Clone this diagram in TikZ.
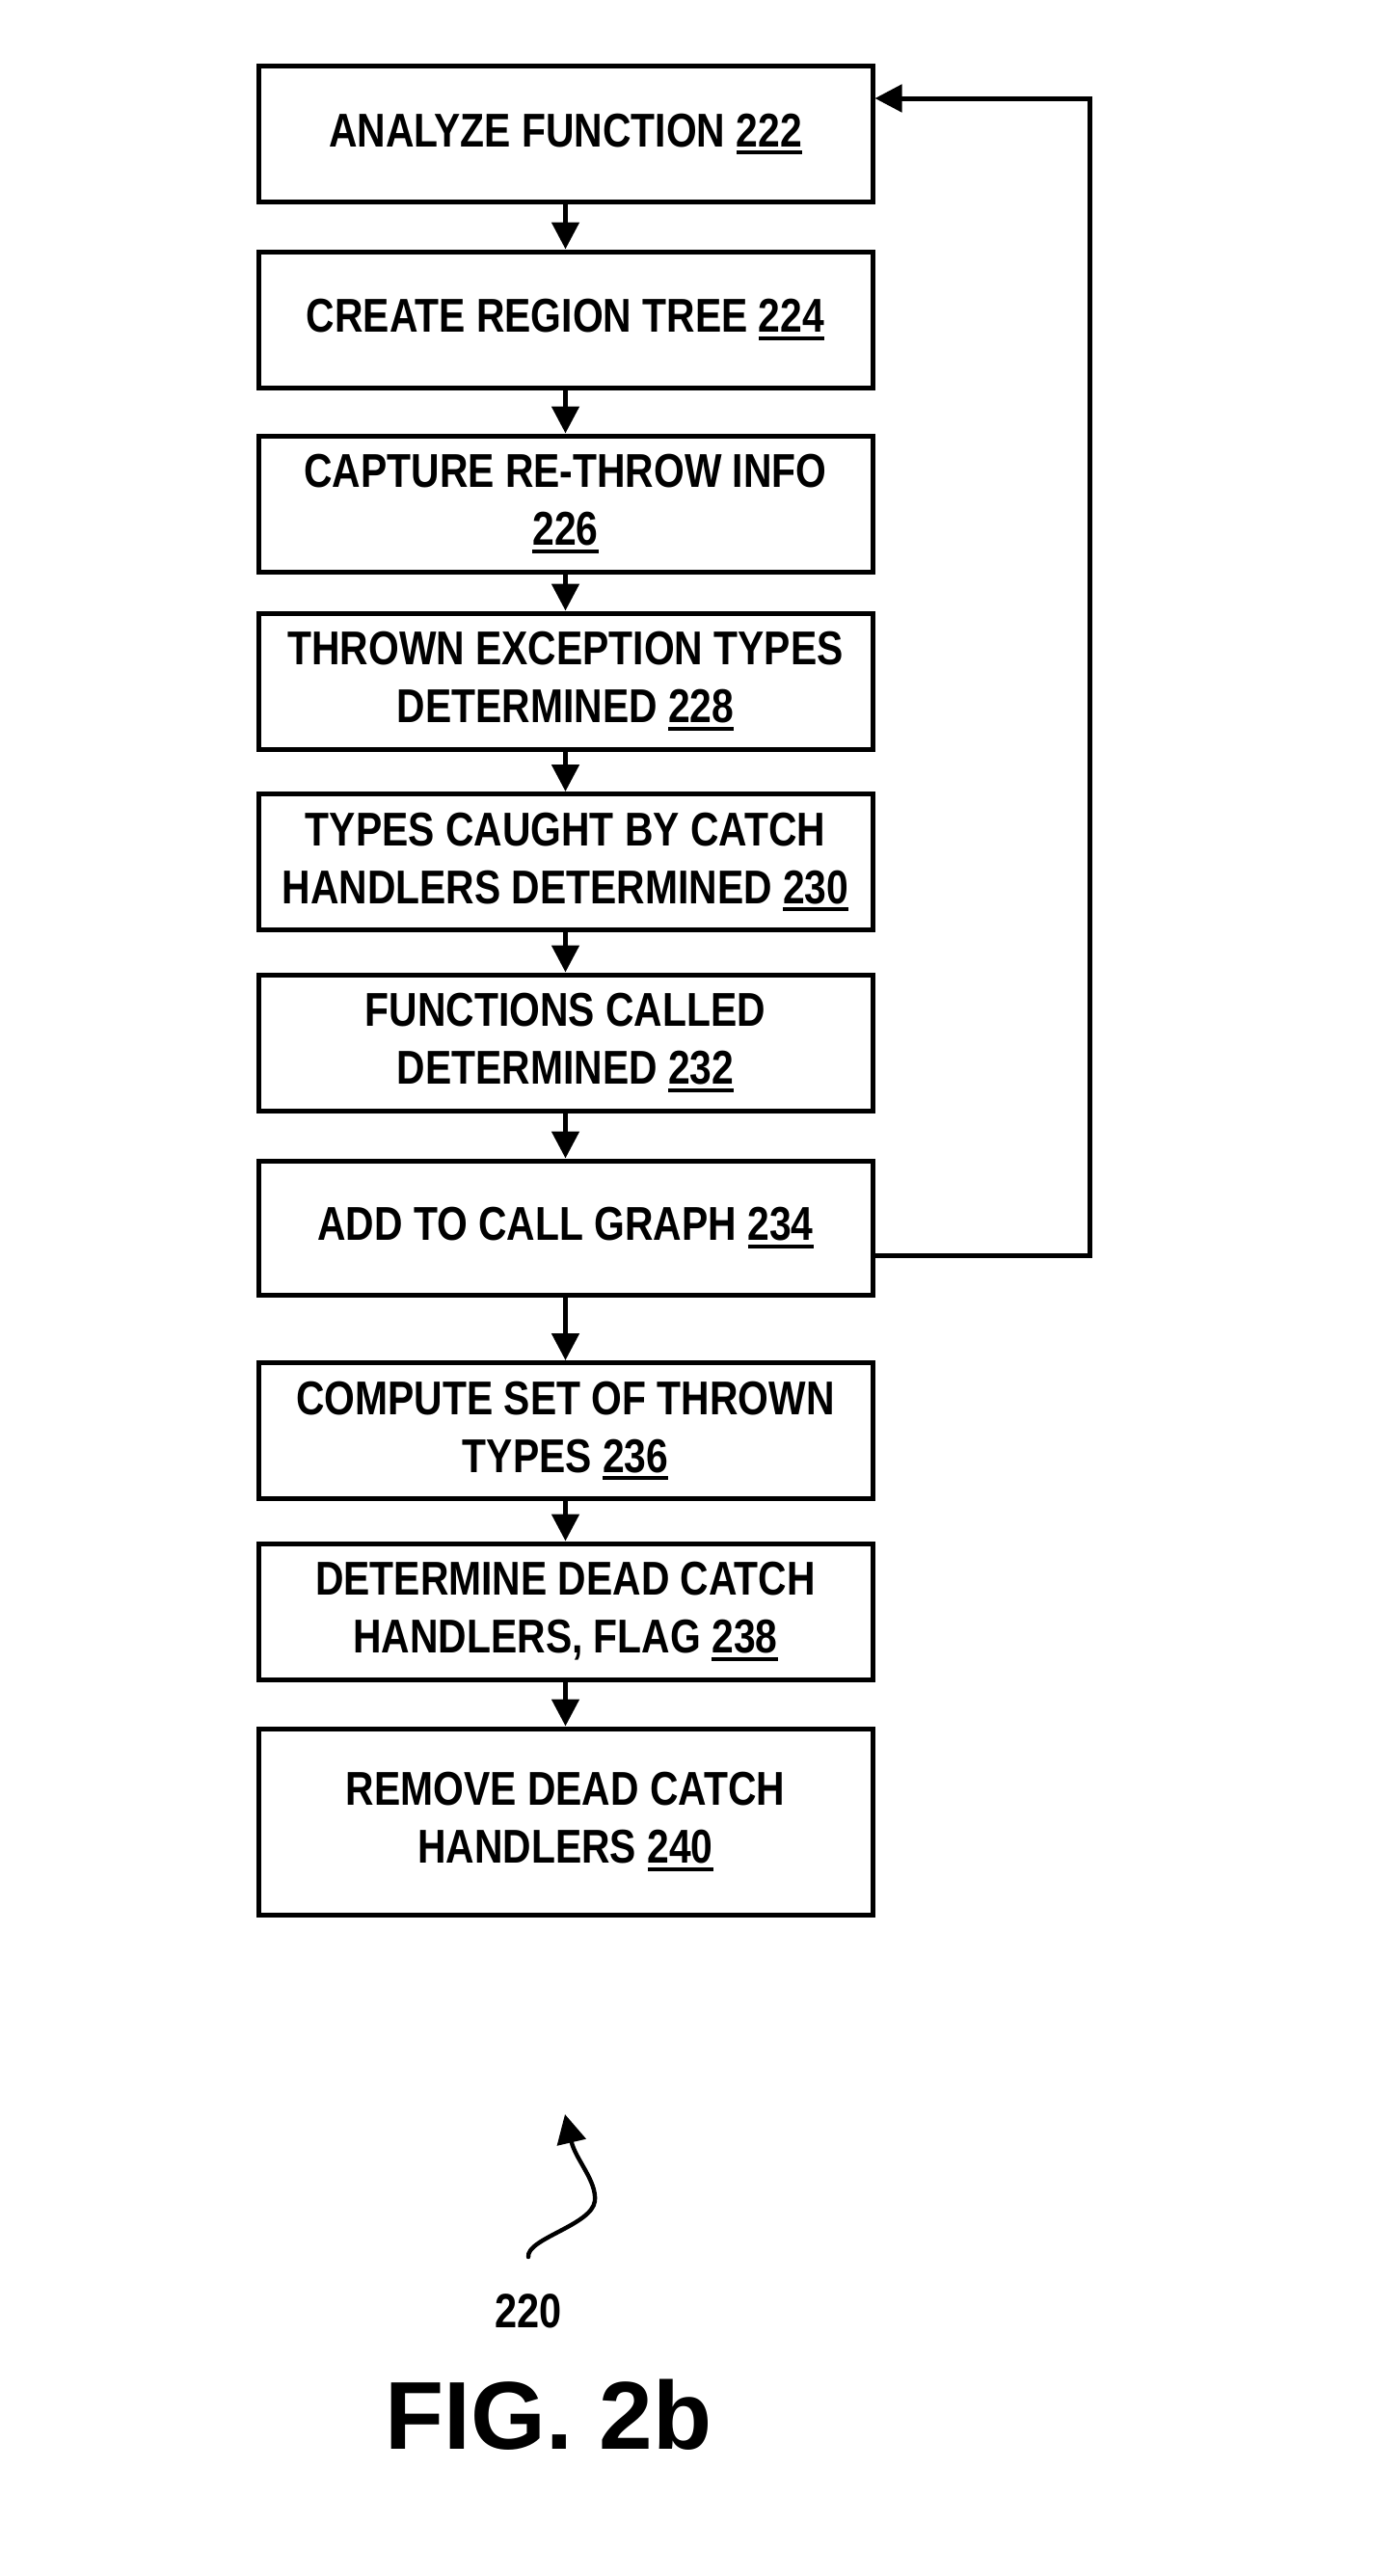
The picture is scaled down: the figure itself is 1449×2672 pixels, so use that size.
\documentclass[tikz,border=0pt]{standalone}
\usepackage{fontspec}
\setmainfont{Liberation Sans}
\newfontfamily\boxfont[FakeStretch=0.83]{Liberation Sans}
\usetikzlibrary{arrows.meta}
\newcommand\refnum[1]{\setbox0\hbox{#1}\leavevmode\rlap{\rule[-4pt]{\wd0}{2pt}}\box0}
\begin{document}
\begin{tikzpicture}[x=0.5pt,y=-0.5pt,
 stepbox/.style={draw, line width=2.5pt, minimum width=318.5pt, minimum height=70.5pt, inner sep=0pt, align=center, font=\boxfont\bfseries\fontsize{24.6}{30}\selectfont},
 arr/.style={line width=2.5pt, -{Triangle[length=14pt,width=14pt]}},
 squig/.style={line width=2.2pt, line cap=round, -{Triangle[length=15pt,width=15pt]}}]
\useasboundingbox (0,0) rectangle (1449,2672);
\node[stepbox] (b1) at (586.5,139) {ANALYZE FUNCTION \refnum{222}};
\node[stepbox] (b2) at (586.5,331.5) {CREATE REGION TREE \refnum{224}};
\node[stepbox] (b3) at (586.5,522.5) {CAPTURE RE-THROW INFO\\\refnum{226}};
\node[stepbox] (b4) at (586.5,706.5) {THROWN EXCEPTION TYPES\\DETERMINED \refnum{228}};
\node[stepbox] (b5) at (586.5,894) {TYPES CAUGHT BY CATCH\\HANDLERS DETERMINED \refnum{230}};
\node[stepbox] (b6) at (586.5,1081.5) {FUNCTIONS CALLED\\DETERMINED \refnum{232}};
\node[stepbox, minimum height=69.5pt] (b7) at (586.5,1273.5) {ADD TO CALL GRAPH \refnum{234}};
\node[stepbox] (b8) at (586.5,1484) {COMPUTE SET OF THROWN\\TYPES \refnum{236}};
\node[stepbox] (b9) at (586.5,1671.5) {DETERMINE DEAD CATCH\\HANDLERS, FLAG \refnum{238}};
\node[stepbox, minimum height=96.5pt] (b10) at (586.5,1889.5) {REMOVE DEAD CATCH\\HANDLERS \refnum{240}};
\draw[arr] (b1) -- (b2);
\draw[arr] (b2) -- (b3);
\draw[arr] (b3) -- (b4);
\draw[arr] (b4) -- (b5);
\draw[arr] (b5) -- (b6);
\draw[arr] (b6) -- (b7);
\draw[arr] (b7) -- (b8);
\draw[arr] (b8) -- (b9);
\draw[arr] (b9) -- (b10);
\coordinate (lp1) at (1130,1302);
\coordinate (lp2) at (1130,102);
\draw[arr] (b7.east |- lp1) -- (lp1) -- (lp2) -- (b1.east |- lp2);
\coordinate (s0) at (548,2341);
\coordinate (s1) at (586,2193);
\draw[squig] (s0) .. controls (546,2322) and (614,2308) .. (617,2283) .. controls (619,2262) and (597,2240) .. (s1);
\node[font=\boxfont\bfseries\fontsize{25}{30}\selectfont, inner sep=0pt] (lab) at (548,2397) {220};
\node[font=\bfseries\fontsize{50}{60}\selectfont, inner sep=0pt] (fig) at (569,2505) {FIG. 2b};
\end{tikzpicture}
\end{document}
